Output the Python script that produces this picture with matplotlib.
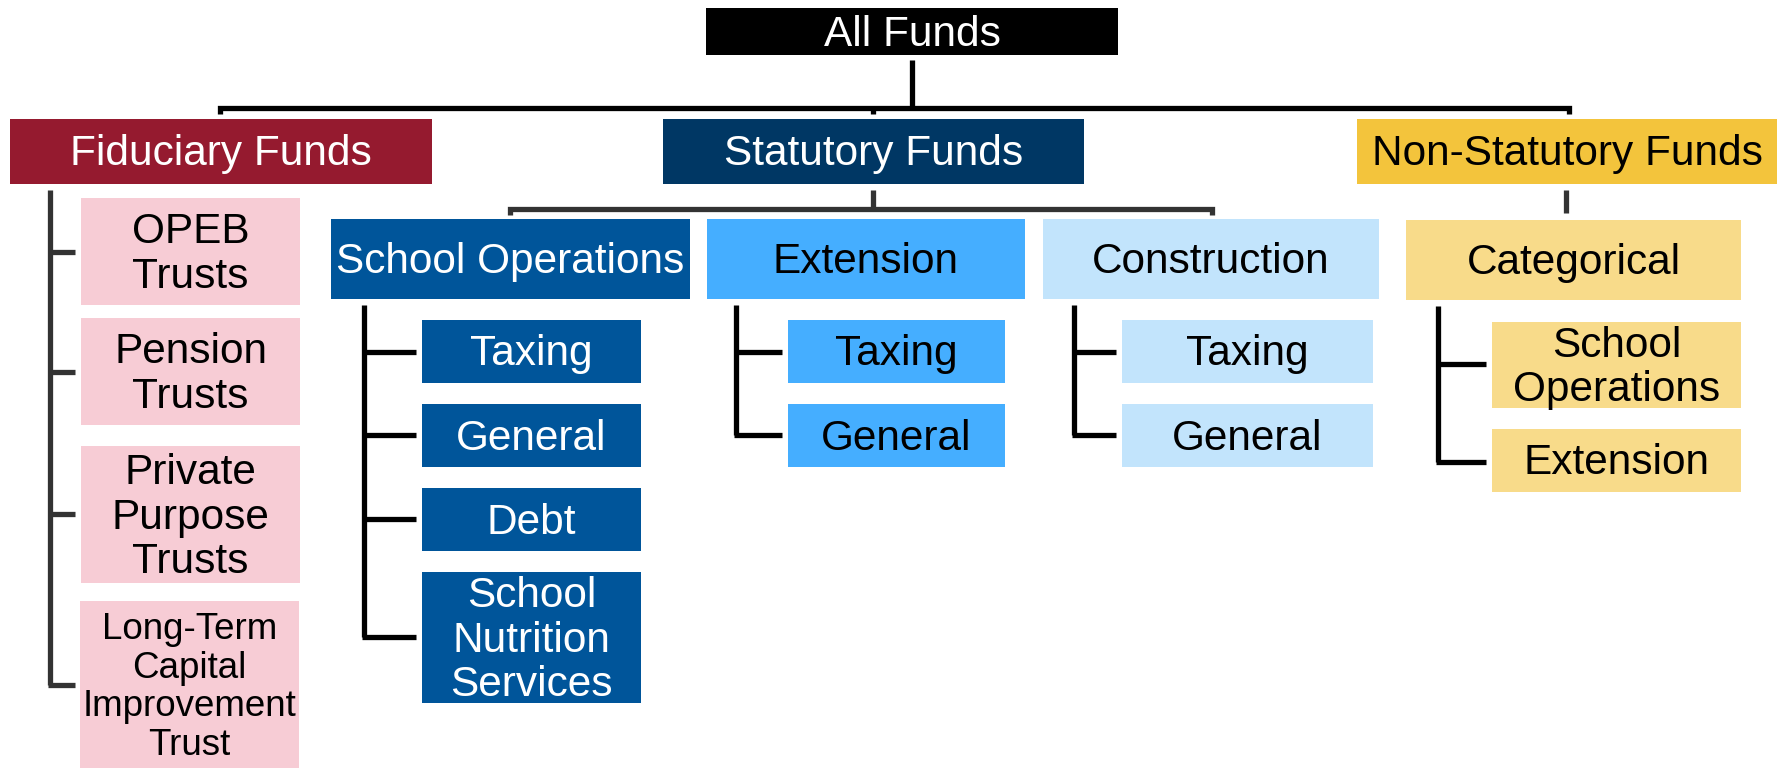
import matplotlib
matplotlib.use("Agg")
import matplotlib.pyplot as plt
from matplotlib.patches import Rectangle

plt.rcParams['font.family'] = ['Liberation Sans', 'DejaVu Sans']

# ---- content (labels) ----
root_label = "All Funds"
group_labels = ["Fiduciary Funds", "Statutory Funds", "Non-Statutory Funds"]
fiduciary_items = ["OPEB\nTrusts", "Pension\nTrusts", "Private\nPurpose\nTrusts",
                   "Long-Term\nCapital\nImprovement\nTrust"]
statutory_subgroups = ["School Operations", "Extension", "Construction"]
school_ops_items = ["Taxing", "General", "Debt", "School\nNutrition\nServices"]
extension_items = ["Taxing", "General"]
construction_items = ["Taxing", "General"]
nonstat_subgroups = ["Categorical"]
categorical_items = ["School\nOperations", "Extension"]

# ---- layout (pixel boxes: x0, y0, x1, y1) ----
W, H = 1786, 768
fig = plt.figure(figsize=(W / 100, H / 100), dpi=100)
ax = fig.add_axes([0, 0, 1, 1])
ax.set_xlim(0, W)
ax.set_ylim(H, 0)
ax.axis('off')

LW = 3.8
DARK = "#333333"
FS = 30.5


def box(b, fc, label, tc, fs=FS, ls=1.13):
    x0, y0, x1, y1 = b
    ax.add_patch(Rectangle((x0, y0), x1 - x0, y1 - y0, facecolor=fc,
                           edgecolor='none', zorder=2))
    ax.text((x0 + x1) / 2, (y0 + y1) / 2 + 3, label, color=tc, fontsize=fs,
            ha='center', va='center', linespacing=ls, zorder=3)


def line(xs, ys, c='black'):
    ax.plot(xs, ys, color=c, lw=LW, solid_joinstyle='miter',
            solid_capstyle='butt', zorder=1)


# root
box((706, 8, 1118, 55), "#000000", root_label, "white")

# top bracket
line([912, 912], [60, 108])
line([220, 220, 1569, 1569], [114, 108, 108, 114])
line([873, 873], [108, 114])

# groups
group_boxes = [(10, 119, 432, 184), (663, 119, 1084, 184), (1357, 119, 1777, 184)]
group_fc = ["#951A2F", "#003764", "#F3C43C"]
group_tc = ["white", "white", "black"]
for b, lab, fc, tc in zip(group_boxes, group_labels, group_fc, group_tc):
    box(b, fc, lab, tc)

# fiduciary children
fid_boxes = [(81, 198, 300, 305), (81, 318, 300, 425), (81, 446, 300, 583),
             (80, 601, 299, 768)]
fid_ticks = [252, 372, 514, 685]
line([50, 50], [190, 685], DARK)
for y in fid_ticks:
    line([48, 75], [y, y], DARK)
for i, (b, lab) in enumerate(zip(fid_boxes, fiduciary_items)):
    if i == 3:
        box(b, "#F7CCD5", lab, "black", fs=26.5, ls=1.13)
    else:
        box(b, "#F7CCD5", lab, "black")

# statutory bracket
line([873, 873], [190, 209], DARK)
line([510, 510, 1212, 1212], [215, 209, 209, 215], DARK)

sub_boxes = [(331, 219, 690, 299), (707, 219, 1025, 299), (1043, 219, 1379, 299)]
sub_fc = ["#00559A", "#45AEFF", "#C2E4FC"]
sub_tc = ["white", "black", "black"]
for b, lab, fc, tc in zip(sub_boxes, statutory_subgroups, sub_fc, sub_tc):
    box(b, fc, lab, tc)

# school operations children
so_boxes = [(422, 320, 641, 383), (422, 404, 641, 467), (422, 488, 641, 551),
            (422, 572, 641, 703)]
so_ticks = [352, 435, 519, 637]
line([364, 364], [305, 637])
for y in so_ticks:
    line([362, 416], [y, y])
for b, lab in zip(so_boxes, school_ops_items):
    box(b, "#00559A", lab, "white")

# extension children
ext_boxes = [(788, 320, 1005, 383), (788, 404, 1005, 467)]
line([736, 736], [305, 435])
for y in [352, 435]:
    line([734, 782], [y, y])
for b, lab in zip(ext_boxes, extension_items):
    box(b, "#45AEFF", lab, "black")

# construction children
con_boxes = [(1122, 320, 1373, 383), (1122, 404, 1373, 467)]
line([1074, 1074], [305, 435])
for y in [352, 435]:
    line([1072, 1116], [y, y])
for b, lab in zip(con_boxes, construction_items):
    box(b, "#C2E4FC", lab, "black")

# non-statutory branch
line([1566, 1566], [190, 213], DARK)
box((1406, 220, 1741, 300), "#F8DB8A", nonstat_subgroups[0], "black")

cat_boxes = [(1492, 322, 1741, 408), (1492, 429, 1741, 492)]
line([1438, 1438], [306, 462])
for y in [364, 462]:
    line([1436, 1486], [y, y])
for b, lab in zip(cat_boxes, categorical_items):
    box(b, "#F8DB8A", lab, "black")

fig.savefig("out.png", dpi=100)
